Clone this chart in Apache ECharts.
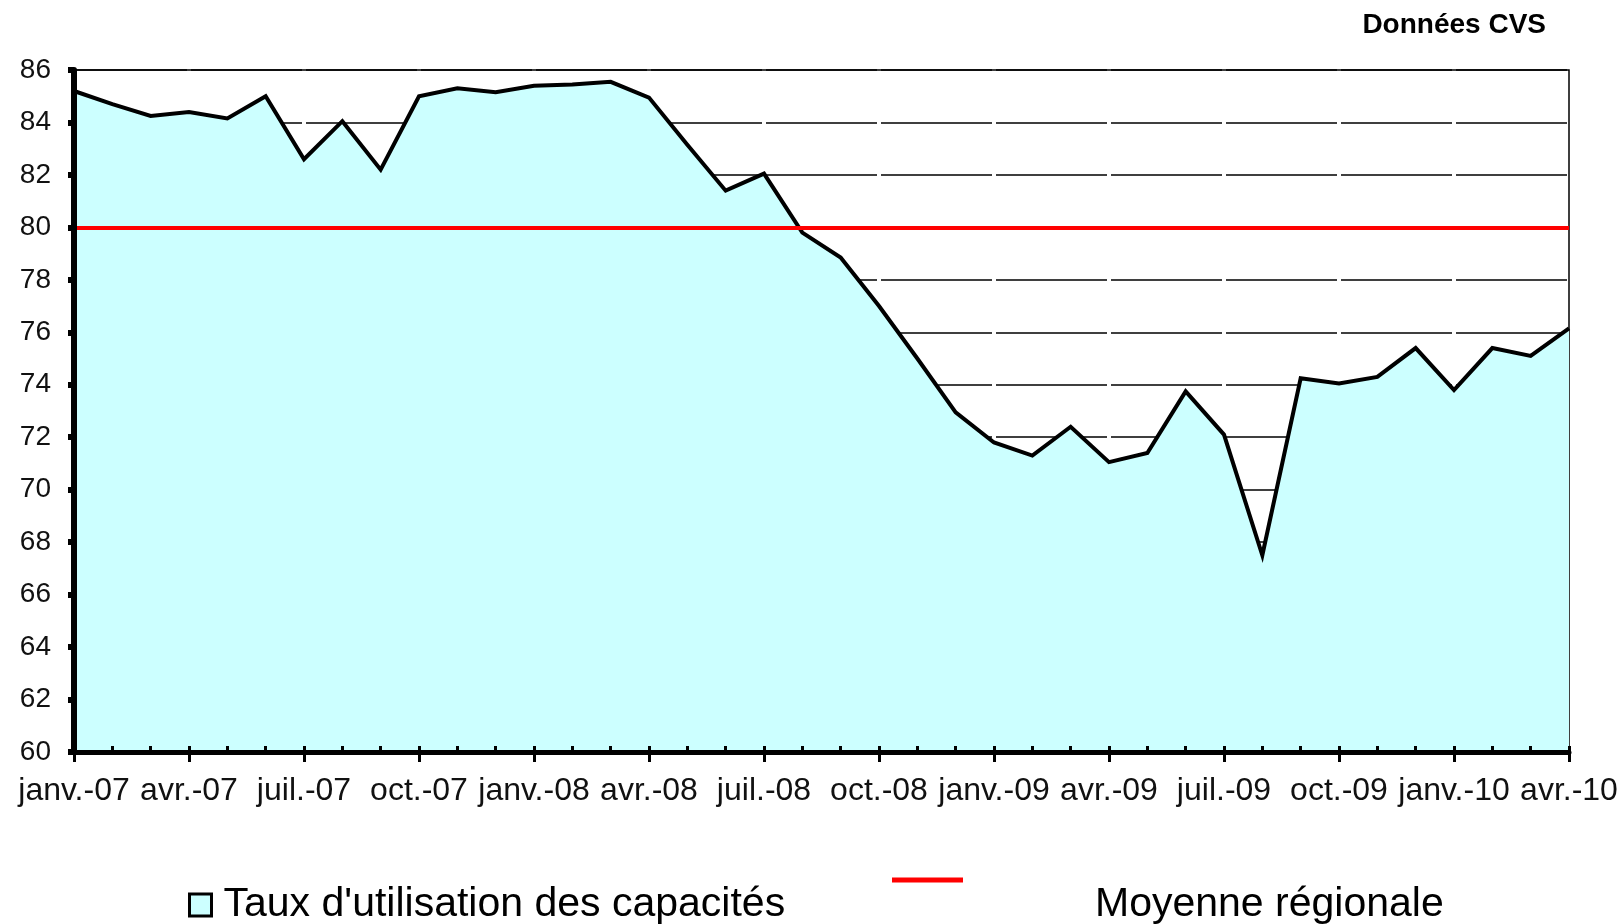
<!DOCTYPE html>
<html>
<head>
<meta charset="utf-8">
<script src="https://cdn.jsdelivr.net/npm/echarts@6/dist/echarts.min.js"></script>
<style>
  html, body { margin: 0; padding: 0; background: #ffffff; }
  #chart { width: 1623px; height: 924px; }
</style>
</head>
<body>
<div id="chart"></div>
<script>
// ---- Data ----
const months = [
  'janv.-07','févr.-07','mars-07','avr.-07','mai-07','juin-07','juil.-07','août-07','sept.-07','oct.-07','nov.-07','déc.-07',
  'janv.-08','févr.-08','mars-08','avr.-08','mai-08','juin-08','juil.-08','août-08','sept.-08','oct.-08','nov.-08','déc.-08',
  'janv.-09','févr.-09','mars-09','avr.-09','mai-09','juin-09','juil.-09','août-09','sept.-09','oct.-09','nov.-09','déc.-09',
  'janv.-10','févr.-10','mars-10','avr.-10'
];
const tauxUtilisation = [
  85.2, 84.7, 84.25, 84.4, 84.15, 85.0, 82.6, 84.05, 82.2, 85.0,
  85.3, 85.15, 85.4, 85.45, 85.55, 84.95, 83.15, 81.4, 82.05, 79.8,
  78.85, 77.0, 75.0, 72.95, 71.8, 71.3, 72.4, 71.05, 71.4, 73.75,
  72.1, 67.5, 74.25, 74.05, 74.3, 75.4, 73.8, 75.4, 75.1, 76.15
];
const moyenneRegionale = 80;
const yMin = 60, yMax = 86, yStep = 2;
const seriesNames = ["Taux d'utilisation des capacités", 'Moyenne régionale'];
const titleText = 'Données CVS';

// ---- Chart ----
const chart = echarts.init(document.getElementById('chart'), null, { renderer: 'canvas' });
const FONT = '"Liberation Sans", Arial, sans-serif';

const option = {
  animation: false,
  backgroundColor: '#ffffff',
  title: {
    text: titleText,
    right: 77, top: 11, padding: 0,
    textStyle: { fontFamily: FONT, fontWeight: 'bold', fontSize: 28, color: '#000' }
  },
  grid: {
    left: 74, right: 54, top: 70, bottom: 172,
    show: true, borderColor: '#000', borderWidth: 1.5, backgroundColor: 'transparent'
  },
  legend: [
    {
      left: 188, top: 884, padding: 0,
      itemWidth: 22, itemHeight: 22,
      data: [{ name: seriesNames[0], icon: 'rect',
               itemStyle: { color: '#CCFFFF', borderColor: '#000', borderWidth: 3 } }],
      textStyle: { fontFamily: FONT, fontSize: 41, lineHeight: 42, color: '#000', padding: [0, 0, 0, 7] }
    },
    {
      left: 892, top: 830, padding: 0,
      itemWidth: 71, itemHeight: 5,
      formatter: function (name) { return '\n' + name; },
      data: [{ name: seriesNames[1], icon: 'rect', itemStyle: { color: '#FF0000', borderWidth: 0 } }],
      textStyle: { fontFamily: FONT, fontSize: 41, lineHeight: 50, color: '#000', padding: [0, 0, 0, 127] }
    }
  ],
  xAxis: [
    {
      type: 'category', data: months, boundaryGap: false, z: 5,
      axisLine: { show: true, lineStyle: { color: '#000', width: 5 } },
      axisTick: { show: true, inside: true, interval: 0, length: 6, lineStyle: { color: '#000', width: 3 } },
      axisLabel: { show: false },
      splitLine: { show: false }
    },
    {
      type: 'category', data: months, boundaryGap: false, position: 'bottom', z: 5,
      axisLine: { show: false },
      axisTick: { show: true, interval: 2, length: 10, lineStyle: { color: '#000', width: 3 } },
      axisLabel: { show: true, interval: 2, margin: 23, fontFamily: FONT, fontSize: 32, color: '#111', hideOverlap: false },
      splitLine: { show: false }
    }
  ],
  yAxis: [
    {
      type: 'value', min: yMin, max: yMax, interval: yStep, z: 0,
      axisLine: { show: false }, axisTick: { show: false }, axisLabel: { show: false },
      splitLine: { show: true, lineStyle: { color: '#000', width: 1.5, type: [111, 4], dashOffset: 113 } }
    },
    {
      type: 'value', min: yMin, max: yMax, interval: yStep, position: 'left', z: 5,
      axisLine: { show: true, lineStyle: { color: '#000', width: 6 } },
      axisTick: { show: true, length: 6, lineStyle: { color: '#000', width: 6 } },
      axisLabel: { show: true, margin: 23, fontFamily: FONT, fontSize: 28, color: '#111' },
      splitLine: { show: false }
    }
  ],
  series: [
    {
      name: seriesNames[0], type: 'line', data: tauxUtilisation,
      xAxisIndex: 0, yAxisIndex: 0, z: 2,
      symbol: 'none', showSymbol: false,
      lineStyle: { color: '#000', width: 4, join: 'miter' },
      itemStyle: { color: '#CCFFFF' },
      areaStyle: { color: '#CCFFFF', opacity: 1, origin: 'start' }
    },
    {
      name: seriesNames[1], type: 'line', data: [],
      xAxisIndex: 0, yAxisIndex: 0, z: 3,
      itemStyle: { color: '#FF0000' },
      markLine: {
        silent: true, symbol: ['none', 'none'], label: { show: false },
        lineStyle: { color: '#FF0000', width: 4, type: 'solid' },
        data: [{ yAxis: moyenneRegionale }]
      }
    }
  ]
};
chart.setOption(option);
</script>
</body>
</html>
